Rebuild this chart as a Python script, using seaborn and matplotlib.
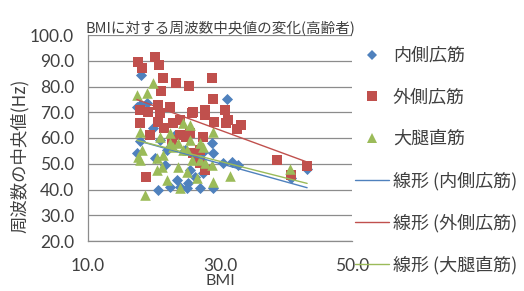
import numpy as np
import pandas as pd
import matplotlib
matplotlib.use("Agg")
import matplotlib.pyplot as plt
from matplotlib.lines import Line2D
import seaborn as sns

# ---- data ----
title = "BMIに対する周波数中央値の変化(高齢者)"
series_names = ["内側広筋", "外側広筋", "大腿直筋"]
trend_names = ["線形 (内側広筋)", "線形 (外側広筋)", "線形 (大腿直筋)"]

bmi_vm = [18.0, 31.1, 17.9, 18.9, 17.4, 19.8, 17.9, 17.4, 20.2, 22.0, 25.5, 20.6, 22.4, 23.9, 25.2,
          27.0, 28.9, 28.8, 28.9, 27.4, 23.5, 30.5, 31.8, 32.7, 26.2, 25.0, 26.5, 27.4, 20.9, 23.2,
          24.7, 21.7, 40.8, 43.2]
vm = [84.5, 75.1, 72.8, 73.6, 72.0, 63.9, 58.8, 54.2, 52.2, 55.3, 47.6, 39.8, 41.0, 41.0, 42.5,
      40.6, 40.6, 58.1, 54.2, 46.4, 43.7, 50.3, 50.7, 49.5, 44.9, 40.6, 52.6, 54.6, 59.2, 61.2,
      55.3, 49.5, 44.5, 48.0]

bmi_vl = [17.6, 18.2, 20.2, 20.8, 21.4, 21.1, 23.3, 25.3, 28.8, 28.9, 30.8, 27.7, 17.9, 19.1, 20.6,
          22.4, 20.9, 25.9, 27.7, 31.2, 29.1, 33.2, 32.6, 17.9, 20.6, 22.9, 23.9, 25.8, 27.4, 23.9,
          25.5, 24.9, 18.8, 27.0, 25.9, 27.0, 27.7, 38.6, 43.2, 40.8, 30.9, 21.5, 19.4, 22.7]
vl = [89.5, 87.2, 91.5, 88.3, 83.3, 78.3, 81.4, 80.2, 83.3, 75.1, 70.9, 70.9, 70.9, 70.1, 72.8,
      72.0, 69.7, 70.1, 68.9, 67.0, 66.2, 65.0, 63.5, 65.8, 66.2, 65.8, 67.0, 69.7, 60.4, 61.2,
      61.9, 60.4, 44.9, 55.3, 54.2, 50.3, 47.6, 51.5, 49.2, 45.5, 65.8, 63.9, 61.2, 59.2]

bmi_rf = [17.4, 18.9, 19.8, 17.9, 18.2, 17.9, 17.6, 20.9, 22.4, 22.9, 20.5, 21.2, 20.5, 24.4, 25.5,
          25.0, 23.6, 25.0, 26.5, 23.9, 18.6, 28.9, 28.9, 27.0, 27.0, 21.4, 22.0, 22.4, 23.6, 25.5,
          27.4, 24.4, 25.8, 27.7, 31.5, 28.8, 40.6]
rf = [76.7, 77.5, 81.4, 62.3, 55.3, 51.5, 52.6, 60.4, 61.9, 56.5, 52.2, 48.7, 47.6, 65.8, 59.2,
      55.3, 48.7, 46.8, 44.5, 40.6, 37.9, 42.8, 62.3, 58.1, 51.5, 53.4, 43.7, 58.1, 58.1, 65.0,
      56.5, 55.3, 51.5, 50.3, 45.2, 49.5, 47.8]

x_ticks = [10, 30, 50]
y_ticks = [20, 30, 40, 50, 60, 70, 80, 90, 100]

# ---- style ----
sns.set_theme(style="white")
plt.rcParams["font.family"] = ["Lato", "Noto Sans CJK JP", "DejaVu Sans"]

colors = ["#4F81BD", "#C0504D", "#9BBB59"]
markers = ["D", "s", "^"]
sizes = [32, 58, 58]
txt = "#404040"
grid = "#8C8C8C"
cjk = ["Noto Sans CJK JP", "DejaVu Sans"]

W, H = 524, 291
fig = plt.figure(figsize=(W / 100, H / 100), dpi=100)
ax = fig.add_axes([88 / W, 1 - 241 / H, (352 - 88) / W, (241 - 35) / H])

xs = [bmi_vm, bmi_vl, bmi_rf]
ys = [vm, vl, rf]

for x, y, c, m, s in zip(xs, ys, colors, markers, sizes):
    sns.scatterplot(x=x, y=y, color=c, marker=m, s=s, linewidth=0, ax=ax, zorder=3)

# linear trend lines over the BMI range
all_bmi = np.concatenate([np.array(v) for v in xs])
xr = np.array([all_bmi.min(), all_bmi.max()])
for x, y, c in zip(xs, ys, colors):
    k, b = np.polyfit(x, y, 1)
    sns.lineplot(x=xr, y=k * xr + b, color=c, lw=1.0, ax=ax, zorder=4)

ax.set_xlim(10, 50)
ax.set_ylim(20, 100)
ax.set_xticks(x_ticks)
ax.set_yticks(y_ticks)
ax.set_xticklabels([f"{v:.1f}" for v in x_ticks])
ax.set_yticklabels([f"{v:.1f}" for v in y_ticks])
ax.yaxis.grid(True, color=grid, lw=0.9)
ax.xaxis.grid(False)
for sp in ["top", "right"]:
    ax.spines[sp].set_visible(False)
for sp in ["left", "bottom"]:
    ax.spines[sp].set_color(grid)
    ax.spines[sp].set_linewidth(0.9)
ax.tick_params(axis="both", which="major", direction="out", length=4, width=0.9,
               color=grid, labelcolor=txt, labelsize=12.5)
ax.tick_params(axis="y", pad=6)
ax.tick_params(axis="x", pad=8)
ax.set_axisbelow(True)

ax.set_title(title, fontsize=10.5, color=txt, pad=2, family=cjk)
ax.set_xlabel("BMI", fontsize=11.5, color=txt)
ax.xaxis.set_label_coords(0.5, (241 - 281) / 206)
ax.set_ylabel("周波数の中央値(Hz)", fontsize=12.5, color=txt, family=cjk)
ax.yaxis.set_label_coords((20 - 88) / 264, (241 - 156) / 206)
ax.yaxis.label.set_verticalalignment("center")
ax.xaxis.label.set_verticalalignment("center")

handles = []
for c, m, ms in zip(colors, markers, [5, 6.5, 7]):
    handles.append(Line2D([], [], color=c, marker=m, markersize=ms, linestyle="none",
                          markeredgewidth=0))
for c in colors:
    handles.append(Line2D([], [], color=c, lw=1.0))
leg = fig.legend(handles, series_names + trend_names, loc="upper left",
                 bbox_to_anchor=(355 / W, 1 - 47 / H), frameon=False,
                 prop={"family": cjk, "size": 13},
                 handlelength=1.9, handletextpad=0.2, labelspacing=1.3, borderpad=0,
                 borderaxespad=0, numpoints=1)
for t in leg.get_texts():
    t.set_color(txt)

fig.savefig("out.png", dpi=100, facecolor="white")
